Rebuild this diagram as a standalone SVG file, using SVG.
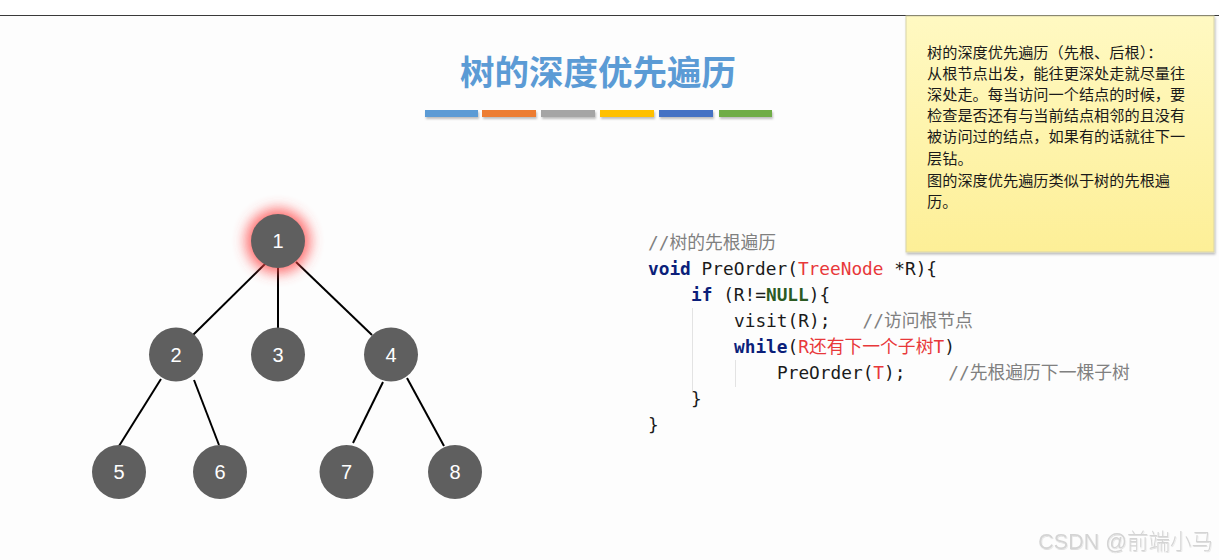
<svg xmlns="http://www.w3.org/2000/svg" width="1219" height="560" viewBox="0 0 1219 560">
<defs>
<filter id="blur" x="-60%" y="-60%" width="220%" height="220%">
<feGaussianBlur stdDeviation="7"/>
</filter>
<linearGradient id="note" x1="0" y1="0" x2="0" y2="1">
<stop offset="0" stop-color="#fff9c2"/>
<stop offset="1" stop-color="#fdef97"/>
</linearGradient>
<filter id="sh" x="-10%" y="-10%" width="130%" height="160%">
<feDropShadow dx="1" dy="2" stdDeviation="1" flood-color="#000" flood-opacity="0.25"/>
</filter>
<filter id="wm" x="-5%" y="-20%" width="110%" height="150%">
<feDropShadow dx="0.5" dy="1" stdDeviation="0.6" flood-color="#000" flood-opacity="0.12"/>
</filter>
</defs>
<style>
.node circle{fill:#5f5f5f}
.node text{fill:#ffffff;font-family:"Liberation Sans",Arial,sans-serif;font-size:20px;text-anchor:middle}
.edge{stroke:#000;stroke-width:2;fill:none}
.code{font-family:"DejaVu Sans Mono","Noto Sans CJK SC",monospace;font-size:17.8px;fill:#1a1a1a;white-space:pre}
.kw{fill:#0b1f7a;font-weight:bold}
.nl{fill:#2c5a23;font-weight:bold}
.red{fill:#e8383a}
.cm{fill:#808080}
.note{font-family:"Noto Sans CJK SC","Noto Sans",sans-serif;font-size:15.2px;fill:#1a1a1a}
.guide{stroke:#e3e3e3;stroke-width:1}
</style>
<rect x="0" y="0" width="1219" height="560" fill="#fdfdfd"/>
<rect x="0" y="0" width="1219" height="15" fill="#ffffff"/>
<line x1="0" y1="15.5" x2="1219" y2="15.5" stroke="#3a3a3a" stroke-width="1.2"/>

<g id="title">
<text x="598" y="85" text-anchor="middle" font-family="Noto Sans CJK SC,sans-serif" font-size="34.5" font-weight="bold" fill="#5b9bd5">树的深度优先遍历</text>
<g filter="url(#sh)">
<rect x="425" y="110" width="53" height="7" fill="#5b9bd5"/>
<rect x="482" y="110" width="54" height="7" fill="#ed7d31"/>
<rect x="541" y="110" width="54" height="7" fill="#a5a5a5"/>
<rect x="600" y="110" width="54" height="7" fill="#ffc000"/>
<rect x="659" y="110" width="54" height="7" fill="#4472c4"/>
<rect x="719" y="110" width="53" height="7" fill="#70ad47"/>
</g>
</g>

<g id="note">
<rect x="906" y="16" width="308" height="236" fill="url(#note)" stroke="#d8d3a8" stroke-width="1" filter="url(#sh)"/>
<text class="note" x="927" y="58">树的深度优先遍历（先根、后根）：</text>
<text class="note" x="927" y="79">从根节点出发，能往更深处走就尽量往</text>
<text class="note" x="927" y="100">深处走。每当访问一个结点的时候，要</text>
<text class="note" x="927" y="121">检查是否还有与当前结点相邻的且没有</text>
<text class="note" x="927" y="142">被访问过的结点，如果有的话就往下一</text>
<text class="note" x="927" y="164">层钻。</text>
<text class="note" x="927" y="186">图的深度优先遍历类似于树的先根遍</text>
<text class="note" x="927" y="207">历。</text>
</g>

<g id="connectors">
<line class="edge" x1="266" y1="263" x2="193" y2="335"/>
<line class="edge" x1="278" y1="268" x2="278" y2="328"/>
<line class="edge" x1="296" y1="262" x2="372" y2="335"/>
<line class="edge" x1="161" y1="379" x2="119" y2="446"/>
<line class="edge" x1="194" y1="380" x2="219" y2="445"/>
<line class="edge" x1="383" y1="382" x2="353" y2="443"/>
<line class="edge" x1="407" y1="378" x2="444" y2="446"/>
</g>

<g id="node1" class="node">
<circle cx="278" cy="241" r="32" style="fill:#ff4040;opacity:0.8" filter="url(#blur)"/>
<circle cx="278" cy="241" r="27"/>
<text x="278" y="248">1</text>
</g>
<g id="node2" class="node"><circle cx="176" cy="354.5" r="27"/><text x="176" y="361.5">2</text></g>
<g id="node3" class="node"><circle cx="278" cy="354.5" r="27"/><text x="278" y="361.5">3</text></g>
<g id="node4" class="node"><circle cx="391" cy="354.5" r="27"/><text x="391" y="361.5">4</text></g>
<g id="node5" class="node"><circle cx="119" cy="472" r="27"/><text x="119" y="479">5</text></g>
<g id="node6" class="node"><circle cx="220" cy="472" r="27"/><text x="220" y="479">6</text></g>
<g id="node7" class="node"><circle cx="346.5" cy="472" r="27"/><text x="346.5" y="479">7</text></g>
<g id="node8" class="node"><circle cx="455" cy="472" r="27"/><text x="455" y="479">8</text></g>

<g id="code">
<line class="guide" x1="692.5" y1="308" x2="692.5" y2="393"/>
<line class="guide" x1="735.5" y1="360" x2="735.5" y2="387"/>
<text class="code" x="648" y="249"><tspan class="cm">//树的先根遍历</tspan></text>
<text class="code" x="648" y="275"><tspan class="kw">void</tspan> PreOrder(<tspan class="red">TreeNode</tspan> *R){</text>
<text class="code" x="691" y="301"><tspan class="kw">if</tspan> (R!=<tspan class="nl">NULL</tspan>){</text>
<text class="code" x="734" y="327">visit(R);   <tspan class="cm">//访问根节点</tspan></text>
<text class="code" x="734" y="353"><tspan class="kw">while</tspan>(<tspan class="red">R还有下一个子树T</tspan>)</text>
<text class="code" x="777" y="379">PreOrder(<tspan class="red">T</tspan>);    <tspan class="cm">//先根遍历下一棵子树</tspan></text>
<text class="code" x="691" y="405">}</text>
<text class="code" x="648" y="431">}</text>
</g>

<text x="1213" y="549" text-anchor="end" font-family="Liberation Sans,Noto Sans CJK SC,sans-serif" font-size="21.5" font-weight="300" fill="#d4d4d4" filter="url(#wm)">CSDN @前端小马</text>
</svg>
